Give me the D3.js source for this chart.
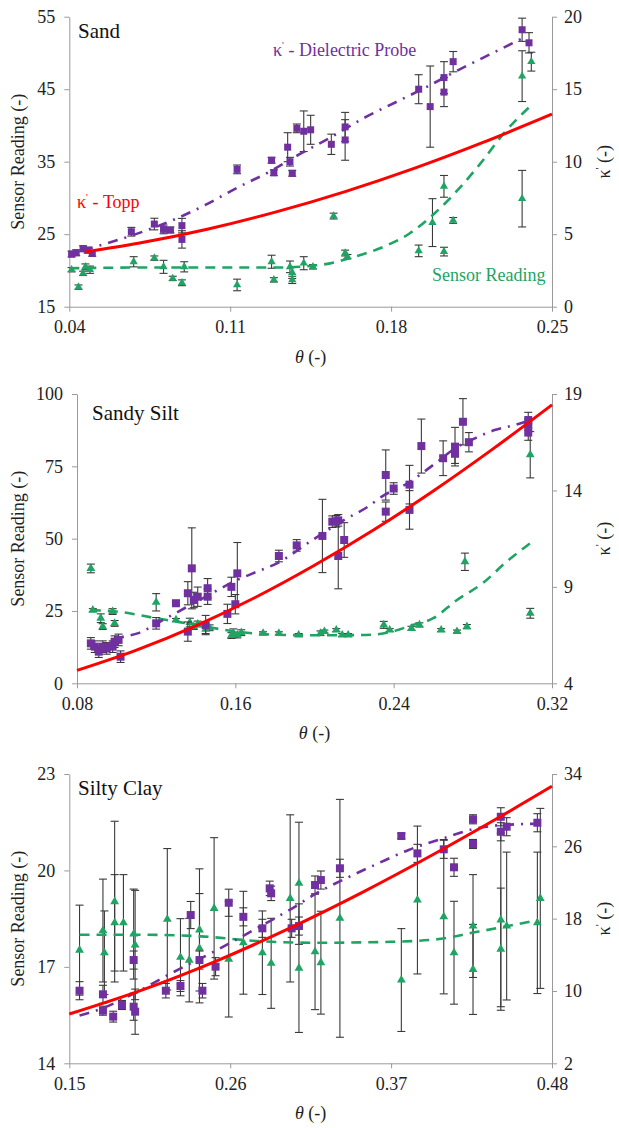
<!DOCTYPE html>
<html>
<head>
<meta charset="utf-8">
<script src="https://cdn.jsdelivr.net/npm/d3@7"></script>
<style>
  body { margin: 0; background: #fff; }
  svg text { font-family: 'Liberation Serif', 'DejaVu Serif', 'Times New Roman', Times, serif; }
</style>
</head>
<body>
<div id="chart"></div>
<script>
// ---- Sand ----  [theta, value, error]
const sandProbe = [
  [0.041,3.63,0.2],[0.043,3.72,0.2],[0.046,4.0,0.2],[0.048,3.9,0.2],[0.050,3.68,0.2],
  [0.067,5.17,0.3],[0.077,5.70,0.4],[0.081,5.33,0.3],[0.084,5.29,0.2],[0.089,5.59,0.5],[0.089,4.64,0.6],
  [0.113,9.47,0.3],[0.128,10.1,0.2],[0.129,9.24,0.2],[0.135,11.0,1.0],[0.136,10.0,0.3],[0.137,9.2,0.2],
  [0.139,12.3,0.3],[0.142,12.1,1.4],[0.145,12.2,1.0],[0.154,11.2,0.7],[0.160,12.4,1.0],[0.160,11.5,1.4],
  [0.192,15.0,1.0],[0.197,13.8,2.8],[0.203,15.8,1.1],[0.203,14.8,1.0],[0.207,16.9,0.7],
  [0.237,19.1,0.8],[0.240,18.2,0.7]
];
const sandSensor = [
  [0.041,20.1,0.3],[0.044,17.7,0.3],[0.046,19.6,0.3],[0.047,20.5,0.4],[0.049,20.1,0.5],
  [0.068,21.2,0.7],[0.077,21.7,0.3],[0.081,20.5,0.9],[0.085,18.9,0.3],[0.089,18.3,0.4],[0.090,20.5,0.7],
  [0.113,18.0,0.8],[0.128,21.2,0.9],[0.129,18.7,0.3],[0.136,20.5,0.8],[0.137,19.7,0.8],[0.137,18.7,0.5],
  [0.142,21.0,0.9],[0.146,20.5,0.3],[0.155,27.5,0.4],[0.160,22.4,0.4],[0.161,21.9,0.3],
  [0.192,22.7,0.8],[0.198,26.6,3.3],[0.203,31.6,1.5],[0.203,22.6,0.6],[0.207,26.9,0.4],
  [0.237,46.8,3.5],[0.241,48.8,1.3],[0.237,29.9,3.9]
];
const sandProbeFit = [[0.046,3.9],[0.067,4.9],[0.084,5.9],[0.099,7.0],[0.113,8.2],[0.127,9.3],[0.140,10.5],
  [0.154,11.7],[0.168,13.0],[0.182,14.1],[0.196,15.2],[0.209,16.3],[0.223,17.4],[0.237,18.5]];
const sandSensorFit = [[0.040,20.3],[0.070,20.4],[0.100,20.4],[0.130,20.4],[0.150,20.8],[0.162,21.7],[0.177,23.3],
  [0.188,25.1],[0.199,27.9],[0.209,31.1],[0.219,34.8],[0.229,38.9],[0.241,42.8]];
const sandTopp = [[0.047,3.78],[0.07,4.37],[0.10,5.34],[0.13,6.54],[0.16,7.94],[0.19,9.54],[0.22,11.33],[0.25,13.28]];

// ---- Sandy Silt ----
const siltProbe = [
  [0.087,6.07,0.3],[0.089,5.9,0.3],[0.091,5.64,0.3],[0.093,5.9,0.3],[0.095,5.81,0.3],[0.098,5.9,0.3],
  [0.099,6.16,0.3],[0.101,6.25,0.3],[0.102,5.38,0.3],
  [0.120,7.11,0.3],[0.130,8.15,0.15],[0.138,9.96,2.1],[0.136,8.67,0.6],[0.139,8.32,0.4],[0.141,8.49,0.5],
  [0.146,8.93,0.5],[0.146,8.49,0.4],[0.136,6.68,0.5],[0.145,7.02,0.5],
  [0.156,7.6,0.5],[0.158,9.0,0.5],[0.160,8.1,0.5],[0.161,9.7,1.6],
  [0.182,10.6,0.3],[0.191,11.15,0.3],[0.204,11.64,1.9],[0.209,12.38,0.3],[0.211,12.4,0.3],[0.212,12.45,0.3],
  [0.212,10.6,1.7],[0.215,11.43,0.9],
  [0.236,14.8,1.3],[0.236,12.9,0.5],[0.240,14.1,0.3],[0.248,14.3,1.0],[0.248,12.99,1.0],[0.254,16.3,1.4],
  [0.265,15.67,0.9],[0.271,16.27,1.0],[0.271,15.9,0.5],[0.275,17.56,1.2],[0.278,16.5,0.5],
  [0.308,17.65,0.4],[0.308,17.4,0.3],[0.308,17.0,0.4]
];
const siltSensor = [
  [0.087,39.7,1.5],[0.088,25.3,0.5],[0.092,22.5,1.5],[0.093,19.6,1.0],[0.098,24.8,1.0],[0.099,20.7,1.0],
  [0.120,28,3],[0.130,21.9,0.5],[0.137,21,1.5],[0.139,19.6,1],[0.141,20.5,1],[0.145,18.7,1.5],[0.147,19.2,1],
  [0.158,16.5,1],[0.159,17.3,1.5],[0.161,16.7,1],[0.163,17.5,1],
  [0.174,17.3,0.5],[0.182,17.3,0.5],[0.192,16.7,0.5],[0.203,17.3,0.8],[0.205,17.9,0.5],[0.211,18.4,0.5],
  [0.214,16.7,0.5],[0.217,16.7,0.5],
  [0.235,20.2,1.2],[0.238,18.4,0.5],[0.249,19.0,0.7],[0.253,20.2,0.7],[0.264,18.4,0.5],[0.272,17.9,0.5],
  [0.276,42.0,3.0],[0.277,19.6,0.7],[0.309,79,8],[0.309,24.2,1.7]
];
const siltProbeFit = [[0.095,6.0],[0.101,6.33],[0.111,6.6],[0.125,7.37],[0.145,8.49],[0.161,9.36],[0.171,9.79],
  [0.181,10.22],[0.199,11.43],[0.215,12.47],[0.227,13.16],[0.234,13.68],[0.247,14.37],[0.261,15.4],
  [0.271,16.18],[0.281,16.7],[0.291,17.13],[0.301,17.39],[0.309,17.65]];
const siltSensorFit = [[0.087,25.3],[0.10,24.8],[0.12,22.5],[0.14,20.2],[0.16,17.9],[0.18,16.8],[0.20,16.6],
  [0.226,16.7],[0.24,18.0],[0.248,19.8],[0.26,22.5],[0.272,28.8],[0.285,34.6],[0.297,42.0],[0.309,48.4]];
const siltTopp = [[0.08,4.67],[0.11,5.72],[0.14,6.98],[0.17,8.45],[0.20,10.12],[0.23,11.96],[0.26,13.97],[0.29,16.14],[0.32,18.44]];

// ---- Silty Clay ----
const clayProbe = [
  [0.157,10.03,1.0],[0.173,9.63,1.0],[0.173,7.82,0.5],[0.180,7.16,0.6],[0.186,8.45,0.5],[0.194,13.42,1.0],
  [0.194,8.26,1.5],[0.195,7.71,2.5],[0.216,10.03,0.8],[0.226,10.55,0.6],[0.233,18.4,1.5],[0.239,13.42,1.0],
  [0.241,10.03,0.8],[0.250,12.69,1.0],[0.259,19.76,1.5],[0.269,18.2,1.0],[0.282,16.93,1.0],[0.287,21.35,0.8],
  [0.288,20.8,0.8],[0.302,16.93,1.0],[0.307,17.18,1.0],[0.318,21.72,1.0],[0.322,22.27,1.0],[0.335,23.57,1.0],
  [0.377,27.14,0.3],[0.388,25.22,1.0],[0.406,25.67,1.0],[0.413,23.68,1.0],[0.426,28.99,0.5],[0.426,26.26,0.5],
  [0.445,29.27,1.0],[0.445,27.61,1.0],[0.449,28.17,1.0],[0.470,28.61,1.0]
];
const claySensor = [
  [0.157,17.52,1.4],[0.173,18.13,1.6],[0.174,17.44,1.3],[0.181,19.03,2.5],[0.181,18.37,1.5],[0.187,18.37,1.5],
  [0.194,18.02,1.4],[0.195,17.68,1.7],[0.217,18.48,2.2],[0.226,17.3,1.2],[0.232,17.21,1.3],[0.239,18.15,1.9],
  [0.239,17.58,1.7],[0.249,18.82,2.2],[0.259,17.24,1.8],[0.269,17.75,1.6],[0.282,17.44,1.3],[0.288,17.11,1.4],
  [0.301,19.13,2.6],[0.307,19.6,1.9],[0.307,16.96,2.0],[0.318,17.47,1.8],[0.322,17.13,1.6],[0.335,18.51,3.7],
  [0.377,16.59,1.6],[0.388,19.08,2.3],[0.406,18.56,2.4],[0.413,17.44,1.6],[0.426,18.27,1.6],[0.426,16.92,1.4],
  [0.445,18.46,2.7],[0.445,17.55,1.9],[0.449,18.27,2.3],[0.470,18.37,2.2],[0.472,19.13,2.8]
];
const clayProbeFit = [[0.157,7.3],[0.173,8.1],[0.194,9.7],[0.219,11.9],[0.253,14.7],[0.28,17.1],[0.301,19.0],
  [0.32,20.9],[0.341,22.6],[0.361,24.1],[0.382,25.6],[0.406,26.9],[0.429,28.0],[0.445,28.35],[0.47,28.5]];
const claySensorFit = [[0.157,18.0],[0.20,18.0],[0.24,17.95],[0.28,17.8],[0.32,17.75],[0.37,17.78],[0.40,17.85],
  [0.43,18.1],[0.47,18.45]];
const clayTopp = [[0.15,7.45],[0.20,10.12],[0.25,13.28],[0.30,16.89],[0.35,20.88],[0.40,25.20],[0.44,28.85],[0.48,32.65]];

// axis ranges and ticks
const sandXTicks = [0.04, 0.11, 0.18, 0.25], sandYTicks = [15, 25, 35, 45, 55], sandKTicks = [0, 5, 10, 15, 20];
const siltXTicks = [0.08, 0.16, 0.24, 0.32], siltYTicks = [0, 25, 50, 75, 100], siltKTicks = [4, 9, 14, 19];
const clayXTicks = [0.15, 0.26, 0.37, 0.48], clayYTicks = [14, 17, 20, 23], clayKTicks = [2, 10, 18, 26, 34];

const PURPLE = '#7030A0', GREEN = '#1FA463', RED = '#FF0000', AXIS = '#9a9a9a', ERR = '#3a3a3a';

const svg = d3.select('#chart').append('svg')
  .attr('width', 619).attr('height', 1128)
  .style('background', '#fff');

function drawPanel(p) {
  const x = d3.scaleLinear().domain(d3.extent(p.xTicks)).range([p.left, p.right]);
  const yL = d3.scaleLinear().domain(d3.extent(p.yTicks)).range([p.bottom, p.top]);
  const yR = d3.scaleLinear().domain(d3.extent(p.kTicks)).range([p.bottom, p.top]);
  const g = svg.append('g');

  const styleAxis = sel => {
    sel.attr('font-family', null).attr('font-size', null);
    sel.select('.domain').attr('stroke', AXIS);
    sel.selectAll('.tick line').attr('stroke', AXIS);
    sel.selectAll('.tick text').attr('fill', '#222').style('font-size', '18px');
  };

  g.append('g').attr('transform', `translate(0,${p.bottom})`)
    .call(d3.axisBottom(x).tickValues(p.xTicks).tickFormat(d3.format('.2f')).tickSize(5).tickSizeOuter(0).tickPadding(9))
    .call(styleAxis);
  g.append('g').attr('transform', `translate(${p.left},0)`)
    .call(d3.axisLeft(yL).tickValues(p.yTicks).tickFormat(d3.format('d')).tickSize(5).tickSizeOuter(0).tickPadding(9))
    .call(styleAxis);
  g.append('g').attr('transform', `translate(${p.right},0)`)
    .call(d3.axisRight(yR).tickValues(p.kTicks).tickFormat(d3.format('d')).tickSize(5).tickSizeOuter(0).tickPadding(7))
    .call(styleAxis);

  // axis titles
  const midY = (p.top + p.bottom) / 2;
  g.append('text').attr('transform', `translate(24,${midY}) rotate(-90)`)
    .attr('text-anchor', 'middle').style('font-size', '18px').attr('fill', '#222')
    .text('Sensor Reading (-)');
  const kt = g.append('text').attr('transform', `translate(610,${midY}) rotate(-90)`)
    .attr('text-anchor', 'middle').style('font-size', '18px').attr('fill', '#222');
  kt.append('tspan').text('κ');
  kt.append('tspan').attr('font-size', '11px').attr('dy', -7).text("'");
  kt.append('tspan').attr('dy', 7).text(' (-)');
  const xt = g.append('text').attr('x', (p.left + p.right) / 2).attr('y', p.bottom + 56)
    .attr('text-anchor', 'middle').style('font-size', '18px').attr('fill', '#222');
  xt.append('tspan').style('font-style', 'italic').text('θ');
  xt.append('tspan').text(' (-)');

  g.append('text').attr('x', p.titleX).attr('y', p.titleY)
    .style('font-size', '21px').attr('fill', '#111').text(p.title);

  const errBars = (data, y) => {
    const e = g.append('g').attr('stroke', ERR).attr('stroke-width', 1.1);
    data.forEach(d => {
      const cx = x(d[0]), y1 = y(d[1] - d[2]), y2 = y(d[1] + d[2]);
      e.append('line').attr('x1', cx).attr('x2', cx).attr('y1', y1).attr('y2', y2);
      e.append('line').attr('x1', cx - 4).attr('x2', cx + 4).attr('y1', y1).attr('y2', y1);
      e.append('line').attr('x1', cx - 4).attr('x2', cx + 4).attr('y1', y2).attr('y2', y2);
    });
  };
  const line = y => d3.line().x(d => x(d[0])).y(d => y(d[1])).curve(d3.curveMonotoneX);

  // sensor reading (left axis)
  errBars(p.sensor, yL);
  const tri = d3.symbol().type(d3.symbolTriangle).size(p.ms * 4.2);
  g.append('g').selectAll('path').data(p.sensor).join('path')
    .attr('d', tri).attr('transform', d => `translate(${x(d[0])},${yL(d[1])})`).attr('fill', GREEN);
  g.append('path').datum(p.sensorFit).attr('d', line(yL))
    .attr('fill', 'none').attr('stroke', GREEN).attr('stroke-width', 2.6).attr('stroke-dasharray', '10,7');

  // dielectric probe (right axis)
  errBars(p.probe, yR);
  g.append('g').selectAll('rect').data(p.probe).join('rect')
    .attr('x', d => x(d[0]) - p.ms / 2).attr('y', d => yR(d[1]) - p.ms / 2)
    .attr('width', p.ms).attr('height', p.ms).attr('fill', PURPLE);
  g.append('path').datum(p.probeFit).attr('d', line(yR))
    .attr('fill', 'none').attr('stroke', PURPLE).attr('stroke-width', 2.6).attr('stroke-dasharray', '10,7,2,7');

  // Topp (right axis)
  g.append('path').datum(p.topp).attr('d', line(yR))
    .attr('fill', 'none').attr('stroke', RED).attr('stroke-width', 3);

  return g;
}

const g1 = drawPanel({
  title: 'Sand', titleX: 78, titleY: 38,
  left: 69.3, right: 552, top: 16.7, bottom: 306.7, ms: 7,
  xTicks: sandXTicks, yTicks: sandYTicks, kTicks: sandKTicks,
  probe: sandProbe, sensor: sandSensor, probeFit: sandProbeFit, sensorFit: sandSensorFit, topp: sandTopp
});
drawPanel({
  title: 'Sandy Silt', titleX: 92, titleY: 420,
  left: 77, right: 552, top: 394, bottom: 683.3, ms: 8,
  xTicks: siltXTicks, yTicks: siltYTicks, kTicks: siltKTicks,
  probe: siltProbe, sensor: siltSensor, probeFit: siltProbeFit, sensorFit: siltSensorFit, topp: siltTopp
});
drawPanel({
  title: 'Silty Clay', titleX: 78, titleY: 795,
  left: 69.3, right: 552, top: 774, bottom: 1063.3, ms: 8,
  xTicks: clayXTicks, yTicks: clayYTicks, kTicks: clayKTicks,
  probe: clayProbe, sensor: claySensor, probeFit: clayProbeFit, sensorFit: claySensorFit, topp: clayTopp
});

// series annotations in the Sand panel
const ann = (x, y, color) => g1.append('text').attr('x', x).attr('y', y)
  .style('font-size', '18px').attr('fill', color);
let t = ann(273, 56, PURPLE);
t.append('tspan').text('κ');
t.append('tspan').attr('font-size', '10px').attr('dy', -7).text("'");
t.append('tspan').attr('dy', 7).text(' - Dielectric Probe');
t = ann(77, 208, RED);
t.append('tspan').text('κ');
t.append('tspan').attr('font-size', '10px').attr('dy', -7).text("'");
t.append('tspan').attr('dy', 7).text(' - Topp');
ann(432, 281, GREEN).text('Sensor Reading');
</script>
</body>
</html>
